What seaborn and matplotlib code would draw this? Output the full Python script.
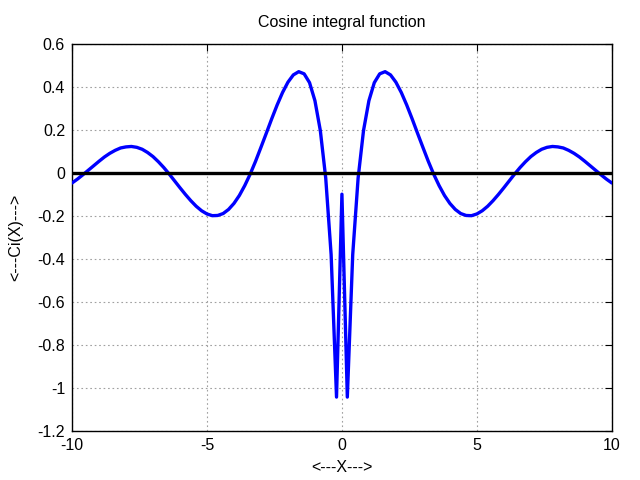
import numpy as np
import pandas as pd
import matplotlib
matplotlib.use("Agg")
import matplotlib.pyplot as plt
import seaborn as sns

# x samples, step 0.2 from -10 to 10
x_vals = [round(-10 + 0.2 * i, 1) for i in range(101)]

# Ci(x) values (left half -10 .. -0.2, centre, right half 0.2 .. 10)
ci_left = [
    -0.046, -0.028, -0.008, 0.013, 0.034, 0.055, 0.075, 0.092, 0.106, 0.117,
    0.122, 0.124, 0.120, 0.111, 0.096, 0.077, 0.053, 0.026, -0.004, -0.036,
    -0.068, -0.099, -0.128, -0.154, -0.175, -0.190, -0.198, -0.197, -0.188, -0.169,
    -0.141, -0.104, -0.058, -0.005, 0.055, 0.120, 0.186, 0.253, 0.317, 0.375,
    0.423, 0.457, 0.472, 0.462, 0.421, 0.337, 0.198, -0.023, -0.379, -1.042,
]
ci_centre = [-0.098]
ci_right = [
    -1.042, -0.379, -0.023, 0.198, 0.337, 0.421, 0.462, 0.472, 0.457, 0.423,
    0.375, 0.317, 0.253, 0.186, 0.120, 0.055, -0.005, -0.058, -0.104, -0.141,
    -0.169, -0.188, -0.197, -0.198, -0.190, -0.175, -0.154, -0.128, -0.099, -0.068,
    -0.036, -0.004, 0.026, 0.053, 0.077, 0.096, 0.111, 0.120, 0.124, 0.122,
    0.117, 0.106, 0.092, 0.075, 0.055, 0.034, 0.013, -0.008, -0.028, -0.046,
]
ci_vals = ci_left + ci_centre + ci_right

df = pd.DataFrame({"x": x_vals, "ci": ci_vals})

sns.set_style("white")
plt.rcParams["font.family"] = ["Liberation Sans", "DejaVu Sans"]
plt.rcParams["text.color"] = "black"
plt.rcParams["axes.labelcolor"] = "black"

fig, ax = plt.subplots(figsize=(6.4, 4.8), dpi=100)
fig.subplots_adjust(left=0.1125, right=0.956, top=0.908, bottom=0.102)

sns.lineplot(data=df, x="x", y="ci", color="#0000ff", linewidth=2.4, ax=ax, zorder=3)
ax.axhline(0, color="black", linewidth=2.4, zorder=4)

ax.set_xlim(-10, 10)
ax.set_ylim(-1.2, 0.6)
ax.set_xticks([-10, -5, 0, 5, 10])
ax.set_yticks(np.round(np.arange(-1.2, 0.61, 0.2), 1))
ax.set_yticklabels(["-1.2", "-1", "-0.8", "-0.6", "-0.4", "-0.2", "0", "0.2", "0.4", "0.6"])
ax.set_xticklabels(["-10", "-5", "0", "5", "10"])

ax.grid(True, color="#a0a0a0", linestyle=(0, (1.5, 2.5)), linewidth=0.8)
ax.tick_params(direction="in", length=5, width=0.8, top=True, right=True,
               labelsize=11.5, colors="black", labelcolor="black", pad=5)
for sp in ax.spines.values():
    sp.set_color("black")
    sp.set_linewidth(1.0)

ax.set_title("Cosine integral function", fontsize=11.5, pad=12, color="black")
ax.set_xlabel("<---X--->", fontsize=11.5, labelpad=5)
ax.set_ylabel("<---Ci(X)--->", fontsize=11.5, labelpad=10)

fig.savefig("out.png", dpi=100)
